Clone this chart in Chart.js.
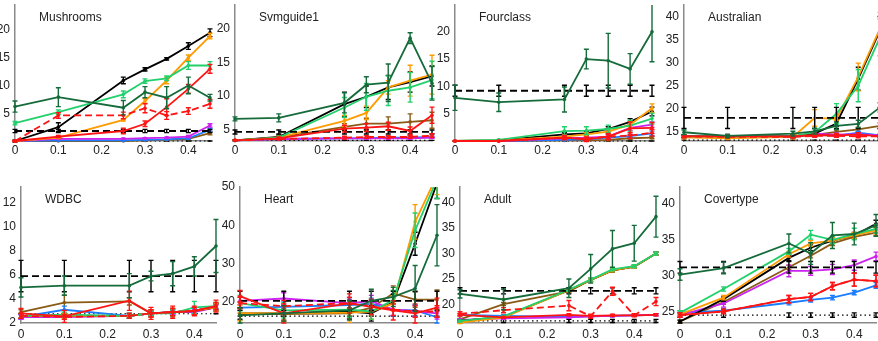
<!DOCTYPE html>
<html>
<head>
<meta charset="utf-8">
<script src="https://cdn.jsdelivr.net/npm/chart.js@4"></script>
<style>
  body { margin: 0; background: #fff; width: 878px; height: 341px; overflow: hidden; position: relative; }
  canvas { position: absolute; }
</style>
</head>
<body>
<script>
// x positions shared by all panels
const xValues = [0, 0.1, 0.25, 0.3, 0.35, 0.4, 0.45];
const xTicks = [0, 0.1, 0.2, 0.3, 0.4];

// ---- Mushrooms
const mushroomsTicks = [5, 10, 15, 20];
const mushroomsY = {
  black: [0, 2.5, 10.9, 12.9, 14.8, 17.1, 19.5],
  orange: [0, 0.6, 3.8, 7.2, 10.9, 15.0, 18.9],
  lgreen: [3.2, 5.2, 8.4, 10.8, 11.3, 13.6, 13.6],
  dgreen: [6.2, 7.9, 6.0, 8.8, 7.8, 10.0, 7.8],
  red: [0, 0.8, 1.8, 3.1, 6.1, 9.4, 13.0],
  redDash: [0, 4.6, 4.6, 5.9, 4.6, 5.4, 6.7],
  blackDash: [1.8, 1.8, 1.8, 1.8, 1.8, 1.8, 1.8],
  blackDot: [0, 0, 0, 0, 0, 0, 0],
  blue: [0, 0.1, 0.1, 0.2, 0.3, 0.5, 2.0],
  magenta: [0, 0.4, 0.4, 0.5, 0.6, 0.8, 2.8],
  brown: [0, 0, 0, 0.1, 0.2, 0.4, 1.4]
};
const mushroomsErr = {
  black: [0.2, 0.8, 0.6, 0.3, 0.2, 0.6, 0.7],
  orange: [0, 0.1, 0.2, 0.4, 0.6, 0.5, 0.5],
  lgreen: [0.3, 0.4, 0.6, 0.4, 0.4, 0.7, 0.7],
  dgreen: [1.0, 1.7, 1.3, 1.0, 2.0, 1.5, 0.6],
  red: [0.1, 0.2, 0.5, 0.5, 1.5, 0.8, 0.8],
  redDash: [0.1, 0.5, 0.6, 0.8, 0.7, 0.6, 0.8],
  blackDash: [0.3, 0.3, 0.3, 0.3, 0.3, 0.3, 0.3],
  blackDot: [0, 0, 0, 0, 0, 0, 0],
  blue: [0, 0, 0, 0, 0.1, 0.2, 0.3],
  magenta: [0, 0.1, 0.1, 0.1, 0.1, 0.2, 0.3],
  brown: [0, 0, 0, 0, 0, 0.1, 0.3]
};

// ---- Svmguide1
const svmguideTicks = [5, 10, 15, 20];
const svmguideY = {
  black: [3.4, 3.9, 8.8, 9.9, 11.3, 12.1, 13.0],
  orange: [3.4, 3.8, 6.3, 7.5, 11.3, 12.3, 13.2],
  lgreen: [3.4, 3.8, 8.3, 9.9, 10.8, 11.3, 12.4],
  dgreen: [6.6, 6.75, 9.0, 11.7, 12.0, 18.65, 11.9],
  red: [3.4, 3.7, 5.15, 5.3, 5.5, 4.8, 7.15],
  redDash: [3.4, 3.6, 3.8, 3.9, 3.9, 3.9, 4.1],
  blackDash: [4.65, 4.65, 4.65, 4.65, 4.65, 4.65, 4.65],
  blackDot: [3.4, 3.4, 3.4, 3.4, 3.4, 3.4, 3.4],
  blue: [3.4, 3.6, 3.7, 3.7, 3.8, 3.8, 3.9],
  magenta: [3.4, 3.6, 3.7, 3.7, 3.7, 3.7, 3.8],
  brown: [3.4, 3.8, 5.4, 5.9, 5.9, 6.15, 6.4]
};
const svmguideErr = {
  black: [0.1, 0.3, 1.8, 1.6, 1.8, 1.5, 1.5],
  orange: [0, 0.2, 0.8, 1.0, 1.0, 2.3, 2.9],
  lgreen: [0, 0.2, 1.5, 2.0, 2.2, 2.2, 2.8],
  dgreen: [0.3, 0.6, 1.5, 1.2, 2.8, 0.8, 2.5],
  red: [0, 0.2, 0.5, 0.6, 0.6, 0.6, 1.2],
  redDash: [0, 0.1, 0.2, 0.2, 0.2, 0.2, 0.3],
  blackDash: [0.3, 0.3, 0.3, 0.3, 0.3, 0.3, 0.3],
  blackDot: [0, 0, 0, 0, 0, 0, 0],
  blue: [0, 0.1, 0.1, 0.1, 0.1, 0.1, 0.1],
  magenta: [0, 0.1, 0.1, 0.1, 0.1, 0.1, 0.1],
  brown: [0, 0.2, 0.5, 0.8, 1.0, 1.2, 1.2]
};

// ---- Fourclass
const fourclassTicks = [5, 10, 15, 20];
const fourclassY = {
  black: [0, 0.1, 1.2, 1.4, 2.2, 3.5, 5.4],
  orange: [0, 0.1, 0.8, 1.2, 1.7, 3.0, 6.0],
  lgreen: [0, 0.2, 1.8, 1.9, 2.2, 2.8, 4.1],
  dgreen: [7.9, 7.1, 7.6, 15.0, 14.7, 13.2, 20.0],
  red: [0, 0, 0.6, 0.3, 0.8, 2.3, 2.4],
  redDash: [0, 0, 0.6, 0.4, 0.8, 1.0, 1.5],
  blackDash: [9.2, 9.2, 9.2, 9.2, 9.2, 9.2, 9.2],
  blackDot: [0, 0, 0, 0, 0, 0, 0],
  blue: [0, 0, 0.2, 0.3, 0.6, 0.9, 1.4],
  magenta: [0, 0, 0.5, 0.6, 0.8, 2.4, 3.0],
  brown: [0, 0, 0.1, 0.1, 0.2, 0.5, 0.6]
};
const fourclassErr = {
  black: [0, 0, 0.3, 0.3, 0.4, 0.6, 0.8],
  orange: [0, 0, 0.3, 0.3, 0.4, 0.6, 0.8],
  lgreen: [0, 0.1, 0.8, 0.7, 0.7, 1.0, 1.0],
  dgreen: [2.3, 1.7, 2.3, 1.8, 5.0, 2.8, 5.5],
  red: [0, 0, 0.4, 0.4, 0.6, 1.2, 1.0],
  redDash: [0, 0, 0.3, 0.3, 0.4, 0.5, 0.6],
  blackDash: [1.0, 1.0, 1.0, 1.0, 1.0, 1.0, 1.0],
  blackDot: [0, 0, 0, 0, 0, 0, 0],
  blue: [0, 0, 0.1, 0.1, 0.2, 0.3, 0.4],
  magenta: [0, 0, 0.2, 0.2, 0.3, 0.5, 0.5],
  brown: [0, 0, 0, 0, 0.1, 0.2, 0.2]
};

// ---- Australian
const australianTicks = [15, 20, 25, 30, 35, 40];
const australianY = {
  black: [14.0, 14.0, 14.0, 14.6, 16.8, 26.5, 37.0],
  orange: [13.8, 13.6, 13.9, 18.0, 17.8, 26.9, 37.4],
  lgreen: [14.0, 14.0, 14.0, 14.9, 18.9, 25.0, 35.5],
  dgreen: [14.9, 14.1, 14.6, 15.1, 16.3, 16.7, 20.3],
  red: [14.0, 14.0, 14.0, 14.3, 14.2, 14.4, 14.0],
  redDash: [14.0, 13.9, 13.9, 14.1, 14.1, 14.0, 14.0],
  blackDash: [18.0, 18.0, 18.0, 18.0, 18.0, 18.0, 18.0],
  blackDot: [13.2, 13.2, 13.2, 13.2, 13.2, 13.2, 13.2],
  blue: [14.0, 14.0, 14.0, 14.4, 14.1, 14.8, 14.2],
  magenta: [14.0, 13.9, 14.0, 14.6, 14.4, 14.5, 14.2],
  brown: [14.0, 14.0, 14.0, 14.3, 15.0, 15.5, 16.3]
};
const australianErr = {
  black: [0.3, 0.3, 0.3, 0.4, 0.6, 2.5, 3.0],
  orange: [0.3, 0.3, 0.4, 1.8, 0.3, 3.0, 3.5],
  lgreen: [0.3, 0.3, 0.4, 0.8, 2.2, 3.5, 4.0],
  dgreen: [0.5, 0.4, 0.5, 0.6, 0.8, 0.8, 1.0],
  red: [0.3, 0.3, 0.3, 0.4, 0.4, 0.4, 0.3],
  redDash: [0.2, 0.2, 0.2, 0.3, 0.3, 0.3, 0.3],
  blackDash: [2.3, 2.3, 2.3, 2.3, 2.3, 2.3, 2.3],
  blackDot: [0, 0, 0, 0, 0, 0, 0],
  blue: [0.2, 0.2, 0.2, 0.3, 0.3, 0.3, 0.3],
  magenta: [0.2, 0.2, 0.2, 0.3, 0.3, 0.3, 0.3],
  brown: [0.2, 0.2, 0.2, 0.3, 0.4, 0.5, 0.6]
};

// ---- WDBC
const wdbcTicks = [2, 4, 6, 8, 10, 12];
const wdbcY = {
  black: [2.6, 2.6, 2.6, 2.8, 2.9, 3.0, 3.3],
  orange: [2.6, 2.6, 2.6, 2.8, 2.9, 3.0, 3.3],
  lgreen: [2.6, 2.7, 2.6, 2.8, 2.8, 3.3, 3.4],
  dgreen: [4.96, 5.1, 5.1, 5.9, 6.1, 6.7, 8.4],
  red: [2.8, 2.55, 3.85, 2.8, 2.9, 3.0, 3.4],
  redDash: [2.6, 2.5, 2.6, 2.8, 2.9, 3.0, 3.4],
  blackDash: [5.9, 5.9, 5.9, 5.9, 5.9, 5.9, 5.9],
  blackDot: [2.77, 2.77, 2.77, 2.77, 2.77, 2.77, 2.77],
  blue: [2.5, 3.1, 2.6, 2.8, 2.9, 3.0, 3.4],
  magenta: [2.5, 2.5, 2.6, 2.8, 2.9, 2.9, 3.3],
  brown: [2.9, 3.7, 3.8, 2.8, 2.9, 3.0, 3.4]
};
const wdbcErr = {
  black: [0.2, 0.2, 0.2, 0.3, 0.3, 0.3, 0.3],
  orange: [0.2, 0.2, 0.2, 0.3, 0.3, 0.3, 0.3],
  lgreen: [0.2, 0.2, 0.2, 0.2, 0.3, 0.5, 0.3],
  dgreen: [0.8, 0.8, 1.0, 0.4, 1.0, 0.8, 2.2],
  red: [0.4, 0.5, 0.8, 0.5, 0.5, 0.4, 0.5],
  redDash: [0.2, 0.2, 0.2, 0.3, 0.3, 0.3, 0.3],
  blackDash: [1.3, 1.3, 1.3, 1.3, 1.3, 1.3, 1.3],
  blackDot: [0, 0, 0, 0, 0, 0, 0],
  blue: [0.2, 0.3, 0.2, 0.2, 0.2, 0.2, 0.2],
  magenta: [0.2, 0.2, 0.2, 0.2, 0.2, 0.2, 0.2],
  brown: [0.2, 0.6, 0.3, 0.2, 0.2, 0.2, 0.2]
};

// ---- Heart
const heartTicks = [20, 30, 40, 50];
const heartY = {
  black: [17.0, 17.0, 17.5, 17.0, 20.0, 35.2, 51.0],
  orange: [17.1, 17.0, 17.2, 17.5, 19.6, 40.9, 53.0],
  lgreen: [19.7, 17.8, 18.0, 17.5, 20.5, 38.7, 52.0],
  dgreen: [16.5, 17.0, 17.8, 20.3, 21.3, 23.5, 37.4],
  red: [21.5, 17.0, 19.6, 18.7, 17.8, 17.0, 18.5],
  redDash: [19.7, 18.9, 19.7, 18.9, 18.0, 17.5, 17.5],
  blackDash: [20.3, 20.3, 20.3, 20.3, 20.3, 20.3, 20.3],
  blackDot: [16.3, 16.3, 16.3, 16.3, 16.3, 16.3, 16.3],
  blue: [18.5, 18.7, 19.2, 19.5, 17.9, 17.8, 16.0],
  magenta: [20.3, 20.9, 19.7, 20.2, 18.0, 17.6, 17.0],
  brown: [16.8, 16.8, 17.0, 18.5, 22.2, 20.6, 20.6]
};
const heartErr = {
  black: [1.5, 2.0, 2.0, 2.0, 2.0, 3.0, 4.0],
  orange: [2.0, 2.0, 2.5, 2.0, 2.0, 4.5, 5.0],
  lgreen: [2.0, 2.0, 2.0, 2.0, 2.5, 4.5, 5.0],
  dgreen: [2.0, 2.0, 2.5, 3.0, 2.5, 6.0, 8.0],
  red: [1.5, 2.5, 2.5, 2.0, 2.5, 2.5, 2.5],
  redDash: [1.5, 1.5, 1.5, 1.5, 1.5, 1.5, 1.5],
  blackDash: [2.5, 2.5, 2.5, 2.5, 2.5, 2.5, 2.5],
  blackDot: [0, 0, 0, 0, 0, 0, 0],
  blue: [1.5, 1.5, 1.5, 1.5, 1.5, 1.5, 1.5],
  magenta: [1.0, 1.5, 1.5, 1.5, 1.5, 1.5, 1.5],
  brown: [1.5, 1.5, 1.5, 2.0, 2.0, 2.0, 2.5]
};

// ---- Adult
const adultTicks = [20, 25, 30, 35, 40];
const adultY = {
  black: [16.8, 17.6, 22.8, 24.8, 26.7, 27.4, 30.0],
  orange: [16.5, 17.5, 22.8, 24.8, 26.7, 27.4, 30.0],
  lgreen: [16.8, 17.7, 22.9, 24.9, 26.9, 27.5, 30.0],
  dgreen: [22.1, 21.0, 23.2, 27.0, 30.9, 32.0, 37.2],
  red: [18.0, 17.5, 18.0, 17.8, 17.9, 17.9, 18.0],
  redDash: [18.2, 18.9, 19.8, 17.7, 22.6, 17.9, 20.6],
  blackDash: [22.7, 22.7, 22.7, 22.7, 22.7, 22.7, 22.7],
  blackDot: [16.8, 16.8, 16.8, 16.8, 16.8, 16.8, 16.8],
  blue: [18.0, 17.8, 17.6, 17.7, 17.8, 17.9, 18.0],
  magenta: [17.0, 17.3, 17.5, 17.7, 17.8, 17.9, 18.0],
  brown: [17.1, 20.1, 22.6, 24.8, 26.7, 27.4, 30.0]
};
const adultErr = {
  black: [0.2, 0.2, 0.3, 0.3, 0.3, 0.3, 0.3],
  orange: [0.2, 0.2, 0.3, 0.3, 0.3, 0.3, 0.3],
  lgreen: [0.2, 0.2, 0.3, 0.3, 0.3, 0.3, 0.3],
  dgreen: [0.8, 2.0, 1.8, 2.8, 3.6, 3.5, 4.0],
  red: [0.2, 0.2, 0.2, 0.2, 0.2, 0.2, 0.2],
  redDash: [0.4, 0.5, 1.0, 0.4, 0.8, 0.3, 0.8],
  blackDash: [0.6, 0.6, 0.6, 0.6, 0.6, 0.6, 0.6],
  blackDot: [0.3, 0.3, 0.3, 0.3, 0.3, 0.3, 0.3],
  blue: [0.2, 0.2, 0.2, 0.2, 0.2, 0.2, 0.2],
  magenta: [0.2, 0.2, 0.2, 0.2, 0.2, 0.2, 0.2],
  brown: [0.2, 0.3, 0.3, 0.3, 0.3, 0.3, 0.3]
};

// ---- Covertype
const covertypeTicks = [25, 30, 35, 40];
const covertypeY = {
  black: [23.7, 26.8, 32.5, 33.9, 34.9, 35.6, 37.2],
  orange: [24.7, 27.0, 33.0, 34.5, 34.9, 35.6, 36.3],
  lgreen: [24.9, 28.2, 33.4, 35.7, 35.0, 35.8, 36.5],
  dgreen: [30.2, 31.1, 34.5, 33.1, 35.6, 35.8, 37.0],
  red: [24.6, 25.1, 26.8, 27.1, 28.6, 29.5, 29.3],
  redDash: [24.6, 25.1, 26.8, 27.1, 28.6, 29.5, 29.3],
  blackDash: [31.2, 31.2, 31.2, 31.2, 31.2, 31.2, 31.2],
  blackDot: [24.6, 24.6, 24.6, 24.6, 24.6, 24.6, 24.6],
  blue: [24.9, 25.2, 26.3, 26.7, 27.0, 27.7, 28.7],
  magenta: [24.6, 26.2, 30.7, 30.7, 30.9, 31.5, 32.7],
  brown: [23.7, 26.4, 31.2, 32.8, 34.5, 35.4, 36.0]
};
const covertypeErr = {
  black: [0.2, 0.3, 0.4, 0.4, 0.4, 0.4, 0.5],
  orange: [0.2, 0.3, 0.4, 0.4, 0.4, 0.4, 0.5],
  lgreen: [0.3, 0.3, 0.4, 0.6, 0.5, 0.8, 0.6],
  dgreen: [0.8, 0.8, 1.3, 1.5, 1.8, 1.5, 1.5],
  red: [0.3, 0.3, 0.5, 0.5, 0.5, 0.9, 0.8],
  redDash: [0.3, 0.3, 0.5, 0.5, 0.5, 0.9, 0.8],
  blackDash: [0.8, 0.8, 0.8, 0.8, 0.8, 0.8, 0.8],
  blackDot: [0.3, 0.3, 0.3, 0.3, 0.3, 0.3, 0.3],
  blue: [0.3, 0.3, 0.3, 0.3, 0.3, 0.3, 0.4],
  magenta: [0.3, 0.5, 0.8, 0.6, 0.7, 0.7, 0.6],
  brown: [0.2, 0.3, 0.3, 0.3, 0.3, 0.3, 0.4]
};

// draw order: first in list ends up on top
const seriesOrder = ["dgreen", "redDash", "red", "blackDash", "lgreen", "orange", "black", "magenta", "blue", "brown", "blackDot"];
const seriesStyle = {
  black: { color: "#000000", dash: [] },
  orange: { color: "#ff9a00", dash: [] },
  lgreen: { color: "#22d06c", dash: [] },
  dgreen: { color: "#156b3a", dash: [] },
  red: { color: "#ff1414", dash: [] },
  redDash: { color: "#ff1414", dash: [7, 4] },
  blackDash: { color: "#000000", dash: [7, 4] },
  blackDot: { color: "#000000", dash: [1.5, 3], width: 1.2 },
  blue: { color: "#1a7cff", dash: [] },
  magenta: { color: "#cc22ee", dash: [] },
  brown: { color: "#8a5a14", dash: [] }
};

const panels = [
  { title: "Mushrooms", y: mushroomsY, err: mushroomsErr, ticks: mushroomsTicks, min: 0, max: 24.5, row: 0, axisX: 15, plotW: 195 },
  { title: "Svmguide1", y: svmguideY, err: svmguideErr, ticks: svmguideTicks, min: 3.3, max: 23.6, row: 0, axisX: 235, plotW: 197 },
  { title: "Fourclass", y: fourclassY, err: fourclassErr, ticks: fourclassTicks, min: 0, max: 24.9, row: 0, axisX: 455, plotW: 197 },
  { title: "Australian", y: australianY, err: australianErr, ticks: australianTicks, min: 13, max: 42.5, row: 0, axisX: 684, plotW: 196 },
  { title: "WDBC", y: wdbcY, err: wdbcErr, ticks: wdbcTicks, min: 2, max: 13.3, row: 1, axisX: 21, plotW: 195 },
  { title: "Heart", y: heartY, err: heartErr, ticks: heartTicks, min: 14.5, max: 50, row: 1, axisX: 240, plotW: 197 },
  { title: "Adult", y: adultY, err: adultErr, ticks: adultTicks, min: 16.4, max: 43, row: 1, axisX: 460, plotW: 196 },
  { title: "Covertype", y: covertypeY, err: covertypeErr, ticks: covertypeTicks, min: 23.5, max: 42.3, row: 1, axisX: 680, plotW: 196 }
];

const rows = [
  { top: 0, height: 170, plotTop: 5, plotBottom: 141, labelPad: 2 },
  { top: 170, height: 171, plotTop: 17, plotBottom: 153, labelPad: 4 }
];

const yAxisW = 26;
const padRight = 8;
const fontFamily = "'Liberation Sans', Arial, Helvetica, sans-serif";

// vertical error bars with caps, drawn right after each line
const errorBars = {
  id: "errorBars",
  afterDatasetDraw(chart, args) {
    const ds = chart.data.datasets[args.index];
    if (!ds.errs) return;
    const ctx = chart.ctx;
    const ys = chart.scales.y;
    const area = chart.chartArea;
    ctx.save();
    ctx.beginPath();
    ctx.rect(area.left - 3, area.top, area.right - area.left + 10, area.bottom - area.top + 4);
    ctx.clip();
    ctx.strokeStyle = ds.borderColor;
    ctx.lineWidth = 1.4;
    ctx.setLineDash([]);
    args.meta.data.forEach((pt, i) => {
      const v = ds.data[i].y;
      const e = ds.errs[i];
      const y1 = ys.getPixelForValue(v - e);
      const y2 = ys.getPixelForValue(v + e);
      ctx.beginPath();
      ctx.moveTo(pt.x, y1);
      ctx.lineTo(pt.x, y2);
      ctx.moveTo(pt.x - 2.5, y1);
      ctx.lineTo(pt.x + 2.5, y1);
      ctx.moveTo(pt.x - 2.5, y2);
      ctx.lineTo(pt.x + 2.5, y2);
      ctx.stroke();
    });
    ctx.restore();
  }
};

// dataset name written inside the axes, top left
const panelTitle = {
  id: "panelTitle",
  afterDraw(chart, args, opts) {
    const ctx = chart.ctx;
    ctx.save();
    ctx.font = "12px " + fontFamily;
    ctx.fillStyle = "#222";
    ctx.textBaseline = "middle";
    ctx.fillText(opts.text, chart.chartArea.left + 24, chart.chartArea.top + 13);
    ctx.restore();
  }
};

panels.forEach((p) => {
  const r = rows[p.row];
  const canvas = document.createElement("canvas");
  const w = yAxisW + p.plotW + padRight;
  canvas.width = w;
  canvas.height = r.height;
  canvas.style.left = (p.axisX - yAxisW) + "px";
  canvas.style.top = r.top + "px";
  canvas.style.width = w + "px";
  canvas.style.height = r.height + "px";
  document.body.appendChild(canvas);

  const datasets = seriesOrder.map((key) => {
    const st = seriesStyle[key];
    return {
      label: key,
      data: xValues.map((x, i) => ({ x: x, y: p.y[key][i] })),
      errs: p.err[key],
      borderColor: st.color,
      backgroundColor: st.color,
      borderWidth: st.width || 1.8,
      borderDash: st.dash,
      pointRadius: key === "blackDot" || key === "blackDash" ? 0 : 1.8,
      pointBorderWidth: 0,
      tension: 0,
      clip: { left: 3, right: 10, top: 0, bottom: 4 }
    };
  });

  new Chart(canvas, {
    type: "line",
    data: { datasets },
    options: {
      responsive: false,
      animation: false,
      devicePixelRatio: 1,
      layout: { padding: { top: r.plotTop, right: padRight, left: 0, bottom: 0 } },
      plugins: {
        legend: { display: false },
        tooltip: { enabled: false },
        panelTitle: { text: p.title }
      },
      scales: {
        x: {
          type: "linear",
          min: 0,
          max: 0.45,
          afterBuildTicks: (s) => { s.ticks = xTicks.map((v) => ({ value: v })); },
          afterFit: (s) => {
            s.height = r.height - r.plotBottom;
            s.paddingLeft = 0;
            s.paddingRight = 0;
          },
          grid: { drawOnChartArea: false, drawTicks: false },
          border: { color: "#8a8a8a", width: 1.5 },
          ticks: {
            padding: r.labelPad,
            color: "#222",
            font: { family: fontFamily, size: 12 },
            callback: (v) => String(Math.round(v * 10) / 10)
          }
        },
        y: {
          min: p.min,
          max: p.max,
          afterBuildTicks: (s) => { s.ticks = p.ticks.map((v) => ({ value: v })); },
          afterFit: (s) => {
            s.width = yAxisW;
            s.paddingTop = 0;
            s.paddingBottom = 0;
          },
          grid: { drawOnChartArea: false, drawTicks: false },
          border: { color: "#8a8a8a", width: 1.5 },
          ticks: {
            padding: 5,
            color: "#222",
            font: { family: fontFamily, size: 12 }
          }
        }
      }
    },
    plugins: [errorBars, panelTitle]
  });
});
</script>
</body>
</html>
